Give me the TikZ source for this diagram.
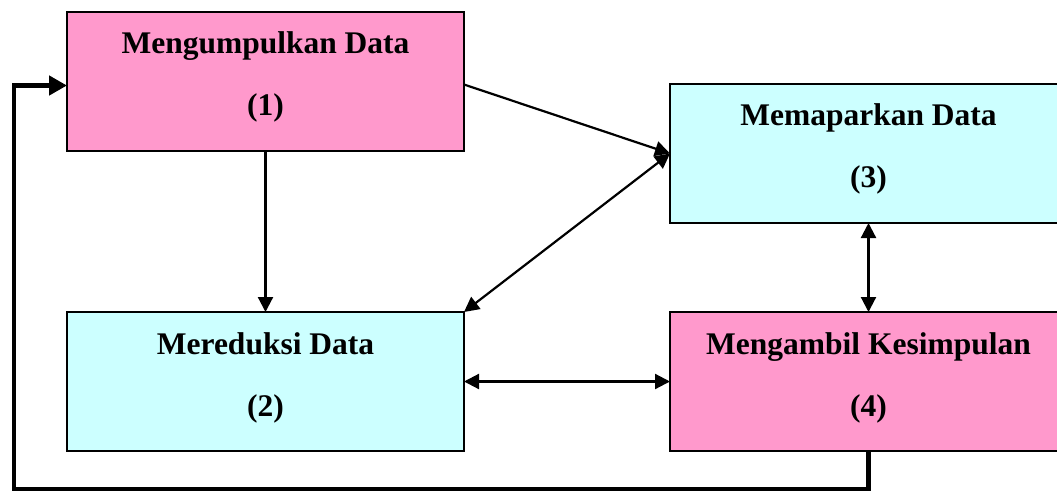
\documentclass[tikz,border=0pt]{standalone}
\usepackage{fontspec}
\setmainfont{Liberation Serif}
\usetikzlibrary{arrows.meta}
\definecolor{boxpink}{HTML}{FF99CC}
\definecolor{boxcyan}{HTML}{CCFFFF}
\begin{document}
\begin{tikzpicture}[x=1pt,y=-1pt,
  box/.style={draw=black,line width=2pt,rectangle,minimum width=397pt,minimum height=139pt,inner sep=0pt,outer sep=0pt,anchor=north west},
  lbl/.style={anchor=base,inner sep=0pt,font=\fontsize{31.5}{36}\selectfont\bfseries},
  conn/.style={line width=2.2pt,-{Triangle[length=15pt,width=15pt]}},
  dconn/.style={line width=2.2pt,{Triangle[length=15pt,width=15pt]}-{Triangle[length=15pt,width=15pt]}},
  fb/.style={line width=4.5pt,-{Triangle[length=18pt,width=19pt]}}]
\useasboundingbox (0,0) rectangle (1057,493);
\node[box,fill=boxpink] (b1) at (67,12) {};
\node[box,fill=boxcyan] (b2) at (67,312) {};
\node[box,fill=boxcyan] (b3) at (670,84) {};
\node[box,fill=boxpink] (b4) at (670,312) {};
\node[lbl] (t1a) at (265.5,53) {Mengumpulkan Data};
\node[lbl] (t1b) at (265.5,115) {(1)};
\node[lbl] (t2a) at (265.5,354) {Mereduksi Data};
\node[lbl] (t2b) at (265.5,416) {(2)};
\node[lbl] (t3a) at (868.5,125) {Memaparkan Data};
\node[lbl] (t3b) at (868.5,187) {(3)};
\node[lbl] (t4a) at (868.5,354) {Mengambil Kesimpulan};
\node[lbl] (t4b) at (868.5,416) {(4)};
\coordinate (b1out) at ([yshift=-3pt]b1.east);
\coordinate (b1in) at ([yshift=-4pt]b1.west);
\coordinate (fbL) at (14,489);
\draw[conn] (b1.south) -- (b2.north);
\draw[conn] (b1out) -- (b3.west);
\draw[dconn] (b3.west) -- (b2.north east);
\draw[dconn] (b2.east) -- (b4.west);
\draw[dconn] (b3.south) -- (b4.north);
\draw[fb] (b4.south) |- (fbL) |- (b1in);
\end{tikzpicture}
\end{document}
